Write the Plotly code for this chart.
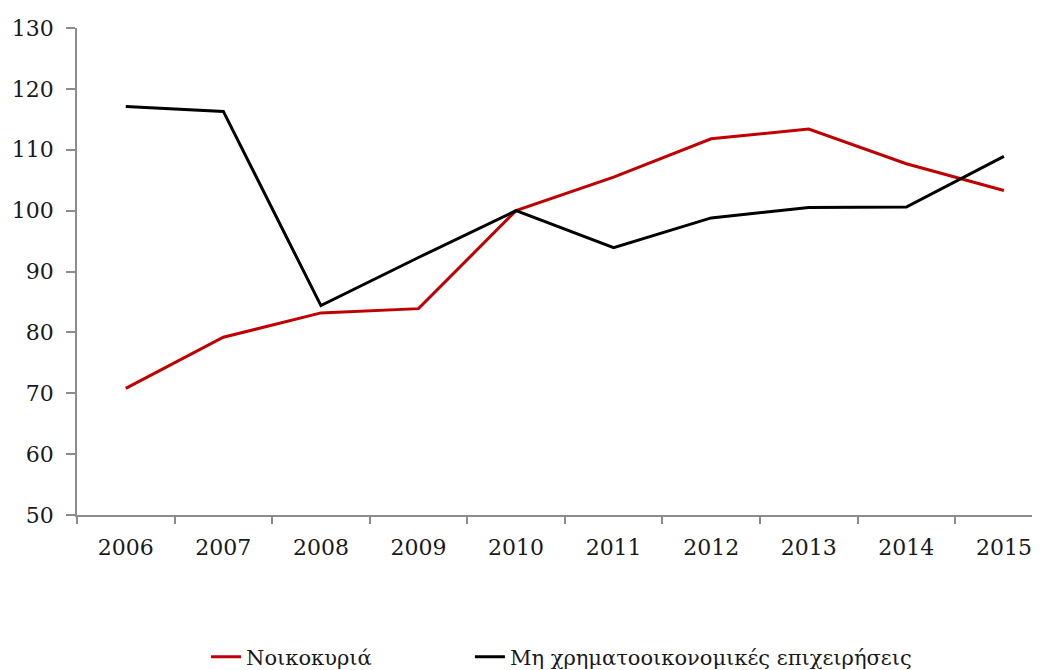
import plotly.graph_objects as go

years = ["2006", "2007", "2008", "2009", "2010", "2011", "2012", "2013", "2014", "2015"]
households = [70.8, 79.2, 83.2, 83.9, 100.0, 105.5, 111.8, 113.4, 107.7, 103.3]
nonfin_corps = [117.1, 116.3, 84.4, 92.3, 100.0, 93.9, 98.8, 100.5, 100.6, 108.9]
series_names = ["Νοικοκυριά", "Μη χρηματοοικονομικές επιχειρήσεις"]
y_ticks = [50, 60, 70, 80, 90, 100, 110, 120, 130]

FONT = "DejaVu Serif"
TXT = "#1a1a1a"

fig = go.Figure()
fig.add_trace(go.Scatter(x=years, y=households, mode="lines", name=series_names[0],
                         line=dict(color="#C00000", width=3), legend="legend"))
fig.add_trace(go.Scatter(x=years, y=nonfin_corps, mode="lines", name=series_names[1],
                         line=dict(color="#000000", width=3), legend="legend2"))

leg_common = dict(orientation="h", yanchor="middle", xanchor="left", y=-0.292,
                  font=dict(family=FONT, size=21, color=TXT), itemwidth=30,
                  bgcolor="rgba(0,0,0,0)")

fig.update_layout(
    width=1032, height=662,
    margin=dict(l=69, r=0, t=20, b=155, autoexpand=False),
    paper_bgcolor="white", plot_bgcolor="white",
    font=dict(family=FONT, size=22, color=TXT),
    showlegend=True,
    legend=dict(leg_common, x=0.134),
    legend2=dict(leg_common, x=0.408),
    xaxis=dict(type="category", range=[-0.5, 9.37], showgrid=False, automargin=False,
               showline=True, linecolor="#8c8c8c", linewidth=1.5,
               ticks="outside", ticklen=7, tickcolor="#8c8c8c", tickwidth=1.5,
               tickson="boundaries", ticklabelstandoff=12, zeroline=False),
    yaxis=dict(range=[50, 130], tickvals=y_ticks, showgrid=False, automargin=False,
               showline=True, linecolor="#8c8c8c", linewidth=1.5,
               ticks="outside", ticklen=9, tickcolor="#8c8c8c", tickwidth=1.5,
               ticklabelstandoff=8, zeroline=False),
)

fig.write_html("out.html")
